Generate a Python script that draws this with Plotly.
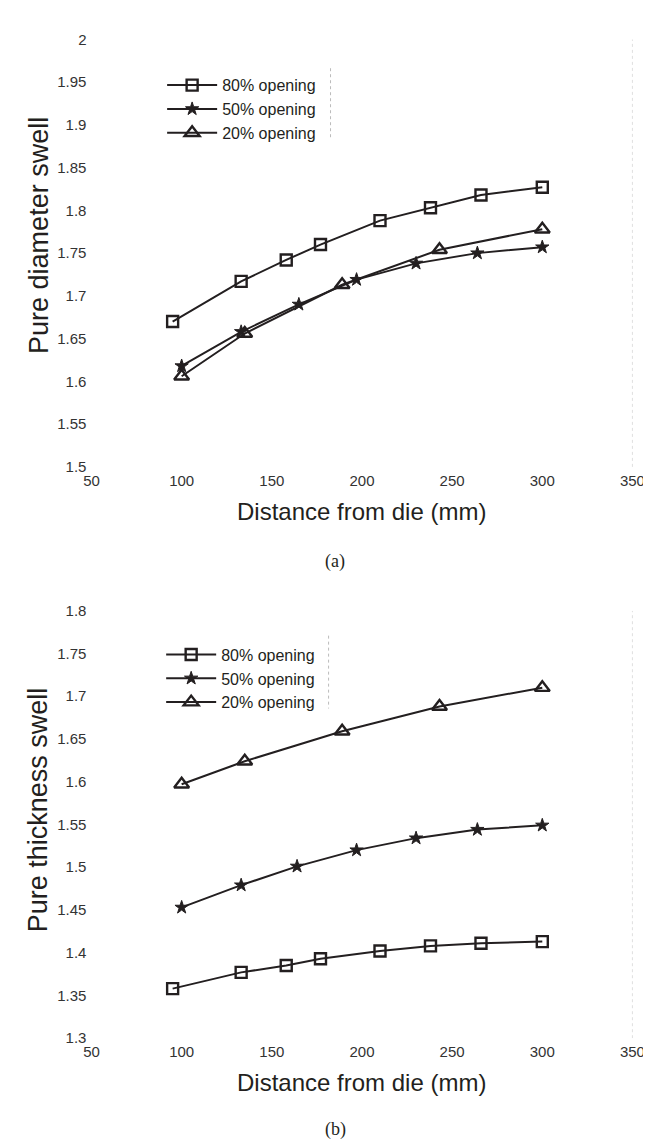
import plotly.graph_objects as go

# ---------------- data ----------------
# (a) Pure diameter swell
x80_a = [95, 133, 158, 177, 210, 238, 266, 300]
y80_a = [1.670, 1.717, 1.742, 1.760, 1.788, 1.803, 1.818, 1.827]
x50_a = [100, 133, 165, 197, 230, 264, 300]
y50_a = [1.618, 1.658, 1.690, 1.719, 1.738, 1.750, 1.757]
x20_a = [100, 135, 189, 243, 300]
y20_a = [1.606, 1.656, 1.713, 1.754, 1.778]

# (b) Pure thickness swell
x80_b = [95, 133, 158, 177, 210, 238, 266, 300]
y80_b = [1.358, 1.377, 1.385, 1.393, 1.402, 1.408, 1.411, 1.413]
x50_b = [100, 133, 164, 197, 230, 264, 300]
y50_b = [1.453, 1.479, 1.501, 1.520, 1.534, 1.544, 1.549]
x20_b = [100, 135, 189, 243, 300]
y20_b = [1.597, 1.624, 1.659, 1.688, 1.710]

series_names = ["80% opening", "50% opening", "20% opening"]

x_ticks = [50, 100, 150, 200, 250, 300, 350]
x_ticktext = ["50", "100", "150", "200", "250", "300", "350"]
ya_ticks = [1.5, 1.55, 1.6, 1.65, 1.7, 1.75, 1.8, 1.85, 1.9, 1.95, 2.0]
ya_ticktext = ["1.5", "1.55", "1.6", "1.65", "1.7", "1.75", "1.8", "1.85", "1.9", "1.95", "2"]
yb_ticks = [1.3, 1.35, 1.4, 1.45, 1.5, 1.55, 1.6, 1.65, 1.7, 1.75, 1.8]
yb_ticktext = ["1.3", "1.35", "1.4", "1.45", "1.5", "1.55", "1.6", "1.65", "1.7", "1.75", "1.8"]

x_title = "Distance from die (mm)"
ya_title = "Pure diameter swell"
yb_title = "Pure thickness swell"

# ---------------- figure ----------------
W, H = 651, 1139
INK = "#231f20"
SANS = "Liberation Sans, Arial, sans-serif"
SERIF = "Liberation Serif, Times New Roman, serif"

def px_x(p):
    return p / W

def px_y(p):
    return 1 - p / H

fig = go.Figure()

symbols = ["square-open", "star", "triangle-up-open"]
msizes = [11, 10, 13]
mlw = [2.4, 1, 2.4]
data_a = [(x80_a, y80_a), (x50_a, y50_a), (x20_a, y20_a)]
data_b = [(x80_b, y80_b), (x50_b, y50_b), (x20_b, y20_b)]

for i, (xs, ys) in enumerate(data_a):
    fig.add_trace(go.Scatter(
        x=xs, y=ys, name=series_names[i], mode="lines+markers",
        line=dict(color=INK, width=2),
        marker=dict(symbol=symbols[i], size=msizes[i], color=INK,
                    line=dict(color=INK, width=mlw[i])),
        xaxis="x", yaxis="y", legend="legend"))

for i, (xs, ys) in enumerate(data_b):
    fig.add_trace(go.Scatter(
        x=xs, y=ys, name=series_names[i], mode="lines+markers",
        line=dict(color=INK, width=2),
        marker=dict(symbol=symbols[i], size=msizes[i], color=INK,
                    line=dict(color=INK, width=mlw[i])),
        xaxis="x2", yaxis="y2", legend="legend2"))

xdom = [px_x(78), px_x(637)]
axis_common = dict(showgrid=False, zeroline=False, showline=False, ticks="",
                   tickfont=dict(family=SANS, size=15, color="#333"))

fig.update_layout(
    width=W, height=H,
    margin=dict(l=0, r=0, t=0, b=0),
    paper_bgcolor="white", plot_bgcolor="white",
    showlegend=True,
    xaxis=dict(domain=xdom, range=[50, 350], tickvals=x_ticks, ticktext=x_ticktext,
               anchor="y", ticklabelstandoff=3, **axis_common),
    yaxis=dict(domain=[px_y(456.7), px_y(22.7)], range=[1.5, 2.0],
               tickvals=ya_ticks, ticktext=ya_ticktext, anchor="x",
               ticklabelstandoff=4, **axis_common),
    xaxis2=dict(domain=xdom, range=[50, 350], tickvals=x_ticks, ticktext=x_ticktext,
                anchor="y2", ticklabelstandoff=3, **axis_common),
    yaxis2=dict(domain=[px_y(1036.7), px_y(602.7)], range=[1.3, 1.8],
                tickvals=yb_ticks, ticktext=yb_ticktext, anchor="x2",
                ticklabelstandoff=4, **axis_common),
    legend=dict(x=px_x(151), y=px_y(52), xanchor="left", yanchor="top",
                bgcolor="rgba(0,0,0,0)", font=dict(family=SANS, size=16, color=INK),
                itemwidth=50, tracegroupgap=0),
    legend2=dict(x=px_x(150), y=px_y(630), xanchor="left", yanchor="top",
                 bgcolor="rgba(0,0,0,0)", font=dict(family=SANS, size=16, color=INK),
                 itemwidth=50, tracegroupgap=0),
)

annotations = [
    dict(text=x_title, x=px_x(357), y=px_y(502), xref="paper", yref="paper",
         showarrow=False, font=dict(family=SANS, size=24, color=INK),
         xanchor="center", yanchor="middle"),
    dict(text=x_title, x=px_x(357), y=px_y(1082), xref="paper", yref="paper",
         showarrow=False, font=dict(family=SANS, size=24, color=INK),
         xanchor="center", yanchor="middle"),
    dict(text=ya_title, x=px_x(23), y=px_y(222), xref="paper", yref="paper",
         showarrow=False, textangle=-90, font=dict(family=SANS, size=27, color=INK),
         xanchor="center", yanchor="middle"),
    dict(text=yb_title, x=px_x(23), y=px_y(805), xref="paper", yref="paper",
         showarrow=False, textangle=-90, font=dict(family=SANS, size=27, color=INK),
         xanchor="center", yanchor="middle"),
    dict(text="(a)", x=px_x(330), y=px_y(553), xref="paper", yref="paper",
         showarrow=False, font=dict(family=SERIF, size=18, color=INK),
         xanchor="center", yanchor="middle"),
    dict(text="(b)", x=px_x(330), y=px_y(1129), xref="paper", yref="paper",
         showarrow=False, font=dict(family=SERIF, size=18, color=INK),
         xanchor="center", yanchor="middle"),
]
fig.update_layout(annotations=annotations)

shapes = [
    # dotted right borders of the plot areas
    dict(type="line", xref="x", yref="y", x0=350, x1=350, y0=1.5, y1=2.0,
         line=dict(color="#bbbbbb", width=1, dash="dot")),
    dict(type="line", xref="x2", yref="y2", x0=350, x1=350, y0=1.3, y1=1.8,
         line=dict(color="#bbbbbb", width=1, dash="dot")),
    # dotted right edge of the legend boxes
    dict(type="line", xref="paper", yref="paper", x0=px_x(325), x1=px_x(325),
         y0=px_y(52), y1=px_y(125), line=dict(color="#bbbbbb", width=1, dash="dot")),
    dict(type="line", xref="paper", yref="paper", x0=px_x(323), x1=px_x(323),
         y0=px_y(628), y1=px_y(702), line=dict(color="#bbbbbb", width=1, dash="dot")),
]
fig.update_layout(shapes=shapes)

fig.write_html("out.html")
